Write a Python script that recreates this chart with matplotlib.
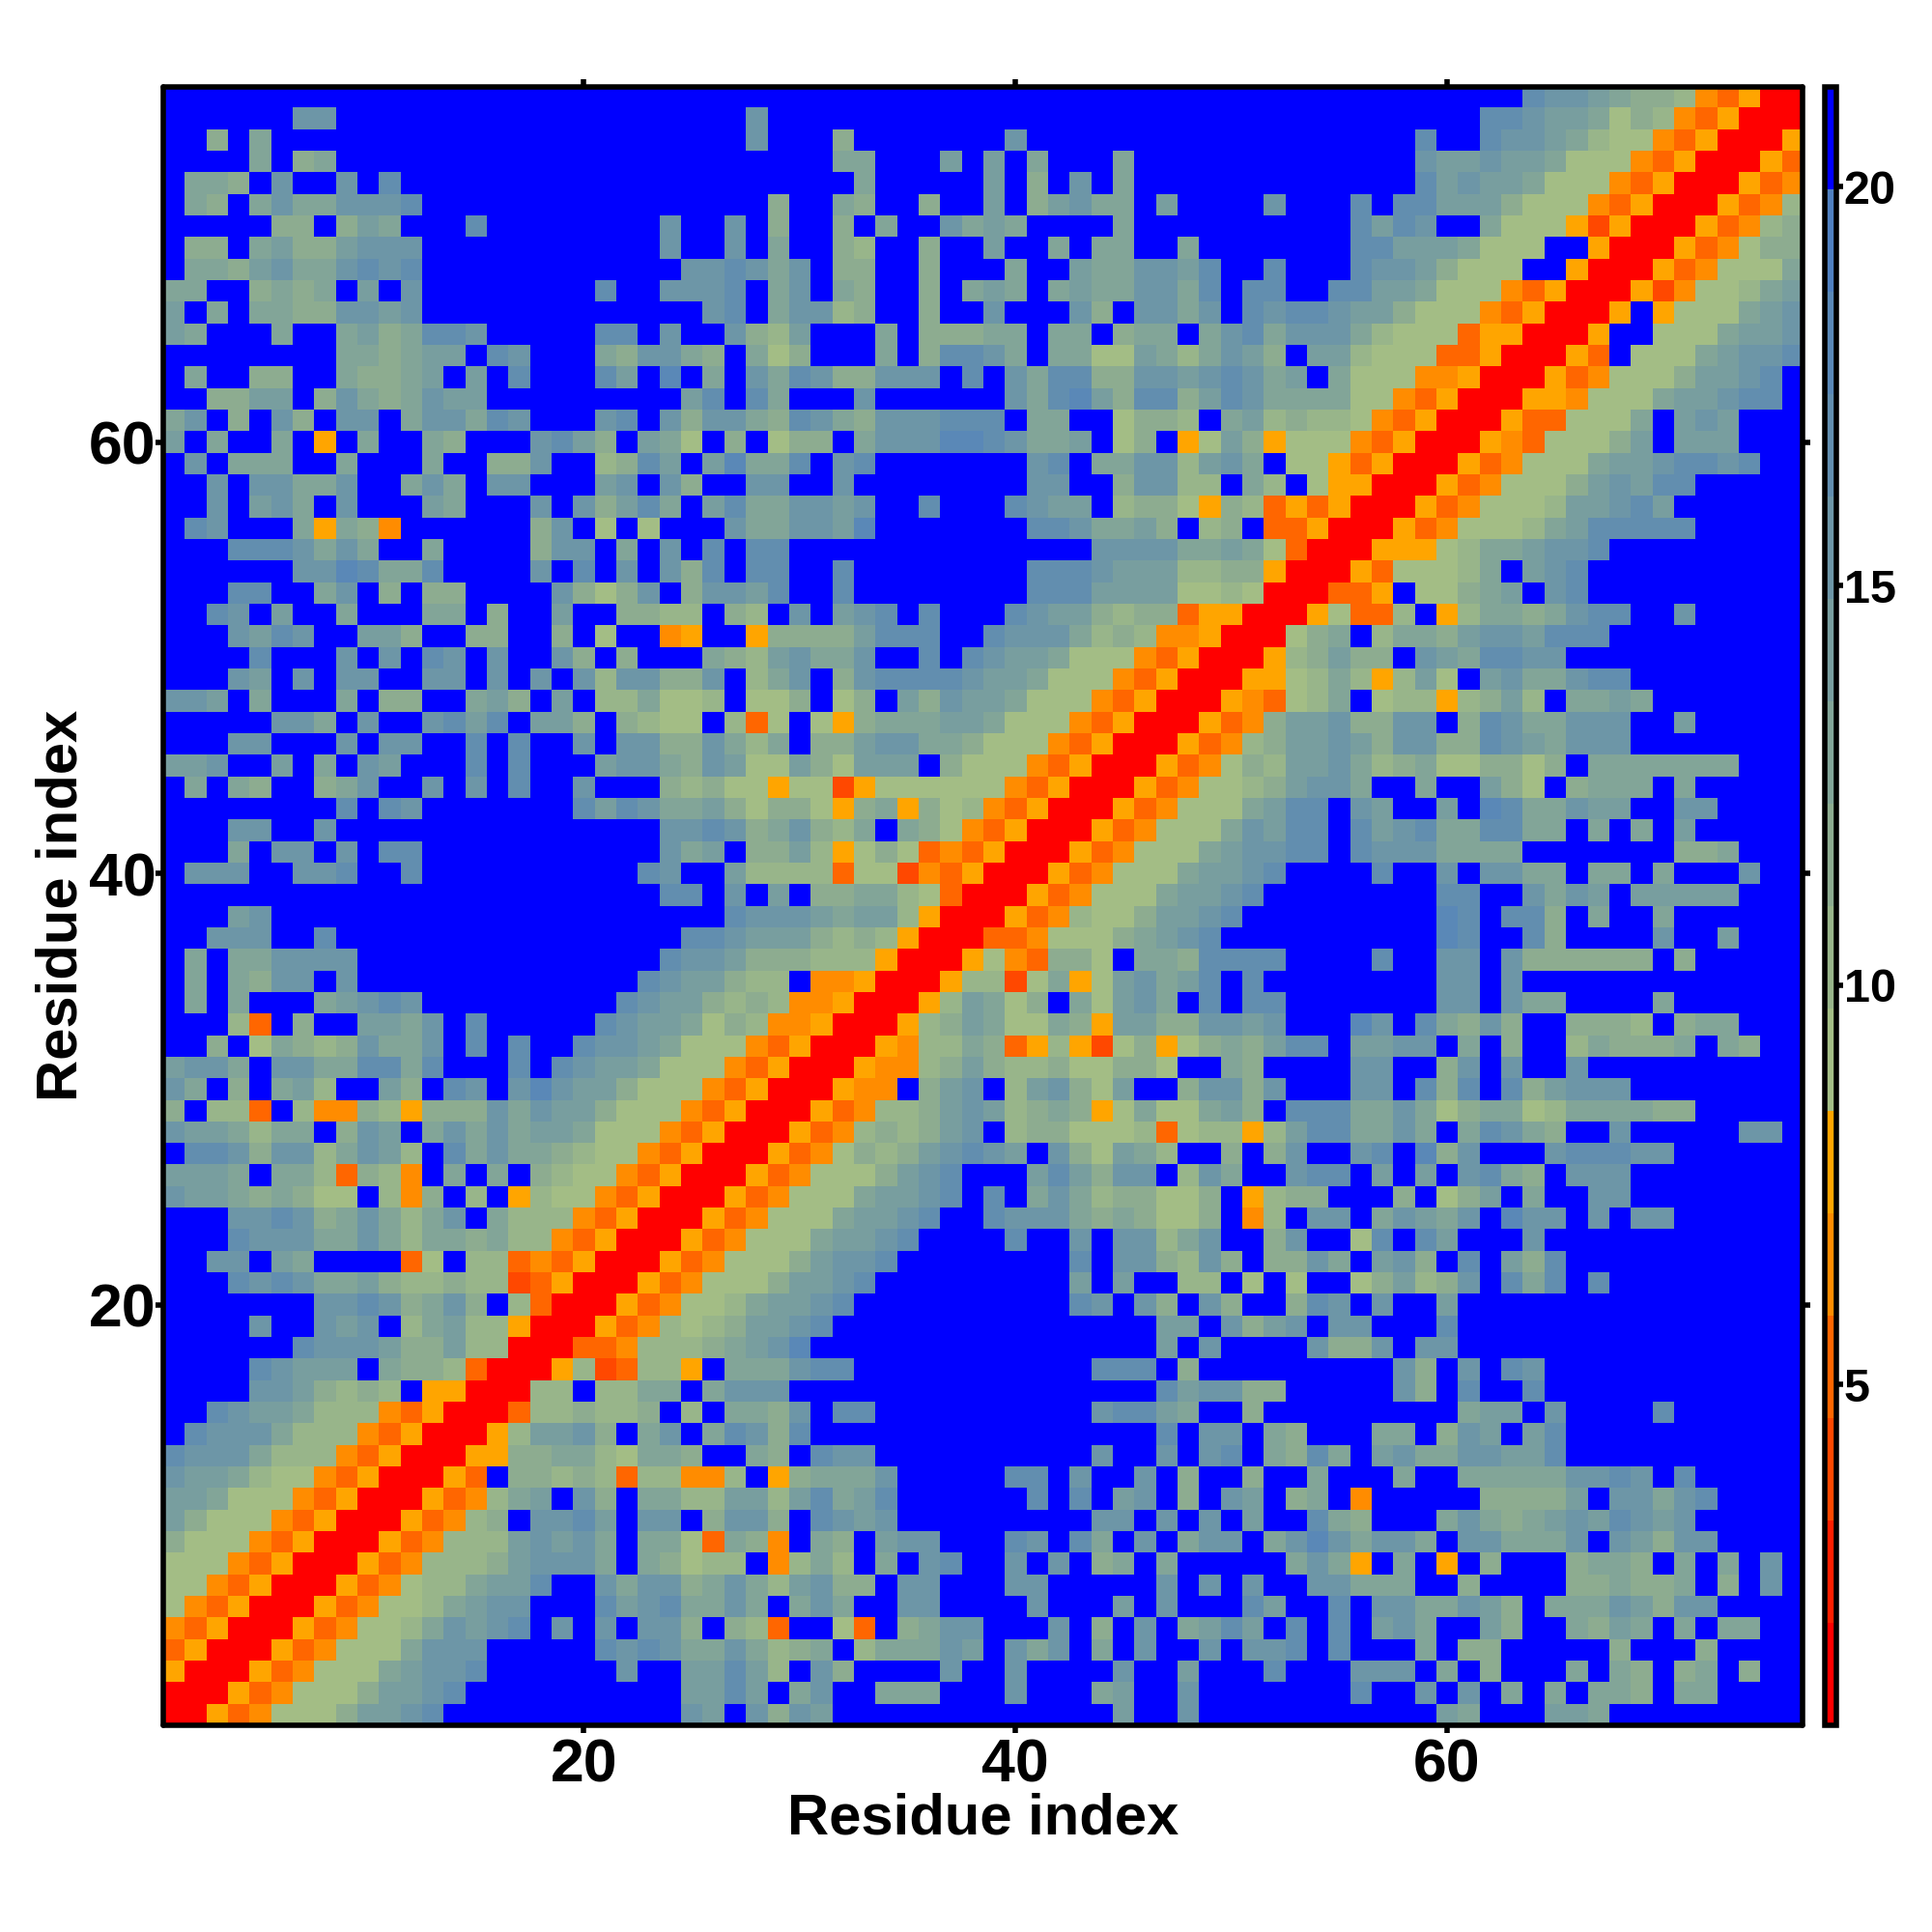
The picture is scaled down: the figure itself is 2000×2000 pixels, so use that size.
import numpy as np
import matplotlib
matplotlib.use("Agg")
import matplotlib.pyplot as plt
from matplotlib.colors import ListedColormap, BoundaryNorm

plt.rcParams["font.family"] = ["Liberation Sans", "DejaVu Sans"]
plt.rcParams["font.weight"] = "bold"

N_RES = 76
X_TICKS = [20, 40, 60]
CBAR_TICKS = [5, 10, 15, 20]
AXIS_LABEL = "Residue index"

# colour bar steps, 16 equal bins
BIN_EDGES = np.linspace(0.73, 21.25, 17)
BIN_COLORS = ["#FF0000", "#FF1F00", "#FF4800", "#FF6600", "#FF8C00", "#FFA500",
              "#A3BD85", "#98B58A", "#8DAC90", "#82A598", "#789E9F", "#6D96A7",
              "#628EAF", "#5A88B7", "#5080C0", "#0000FF"]

# distance read for each cell code (mid of its colour bin)
CODE_VALUES = {"r": 1.4, "q": 3.9, "d": 5.2, "m": 6.5, "o": 7.8,
               "1": 9.1, "2": 10.4, "3": 11.6, "4": 12.9, "5": 14.2,
               "6": 15.5, "7": 16.8, "8": 18.1, "9": 19.4, ".": 20.6}

# upper-left triangle of the symmetric map: first line is residue 76,
# each line runs from residue 1 up to the diagonal (spaces only for reading)
TRIANGLE = [
    "................... ................... ................... ......76654332mdorr",
    "......66........... ........6.......... ................... ....776554132mdorr",
    "..3.4.............. ........6...3...... .6................. .7..76654211mdorr",
    "....4.34........... ............44...5. 5.4...4............ .6556554111mdorr",
    ".443.6..6.7........ .............4..... 5.3.6.4............ .756554111mdorr",
    ".43.46446667....... .........3..43..3.. 5.35644.5....6...7. 775553111mdorr",
    ".....33.354...7.... ....6..6.3..3.4..64 54....4..........75 76..4111oqorr",
    ".33.45335666....... ....6..6.4..32..3.. 5..4.44..4.......77 5554111..orr",
    ".44356446767....... .....667646.33..3.. .4..5446657..7...76 653111..orr",
    "44..3434.5.6....... .7..6667.46.43..3.4 54.45446647.77..775 54111mdorr",
    "5.4.44336656....... ......67.46623..3.. 6...63.6646.7677655 3111mdorr",
    "54...4..4534776.... .77.6..6325...4.333 44.44.344.467466642 111doorr",
    "........443455.76.. .436643.413...4.377 64.44115424653.5521 11ddorr",
    ".4..33..43345.5.7.. .75.8.4.647633666.7 .64773366567645.411 1mmorr",
    "..3355.36434655.... .....57.74...6..... .647853773576444411 mdorr",
    "46.3.63.66.466476.. .67.636643764366677 7.44..1332.4523221m dorr",
    "5.4..4.o.4..43...67 53.541.3.133.466688 76445.13.o153o111md orr",
    ".6.444..4...4..336. .2375.58447.67..... ..67.44662564.11odo rr",
    "..6.66446..464.66.. .56.63..66..6...... ..66..36622.42.1oor r",
    "..6.564.6...54...6. 63574.57446656..7.. .7655.2331o32dodorr",
    ".76...4o43m......36 .1.1...6446658..... ..7764453.23.ddorr",
    "...7776464..4....36 6.4.6.7.77......... .....666644541drr",
    "......6687447....6. 7.6.637.77..7...... ..77765552233orr",
    "...77..46.3.33....6 3136.36657..7...... ..77755551121rr",
    "..76.5..4...44.3..5 ..3322.32.6.567.7.. .76553233doorr",
    "...6576..553..33..3 .1..mo..o33335777.. 76664232mmorr",
    "....7...6.6.76.6..6 3.3...43256446..7.7 6554111mdorr",
    "...65.6.66..66.6.6. 6266336.246.3677776 554111mdorr",
    "665.4...4.33..453.5 .224112.113.13.5365 54111mdorr",
    ".....664.6..6757.55 3.3211.2d1.1o344455 4111mdorr",
    "...66...6.66..7.7.. 6.66336424.33566443 111mdorr",
    "556..5.4.65...7.7.. .566436511531555.31 11mdorr",
    ".4.43..346..6.6.7.. 6...32311o11qo11111 1mdorr",
    "........7.76....... 757644531331o34o312 mdorr",
    "...66..6........... ....6676346324.431m dorr",
    "...4.66.6.77....... ....645.3352o131dmd orr",
    ".666..667..7....... ...76..52222d11qmdo rr",
    "................... ....77.6.5.334421dr r",
    "...56.............. .......766654552orr",
    "..666..7........... .....7765553232orr",
    ".4.446666.......... ....7665333222orr",
    ".4.4366.6.......... ...7655322.mmorr",
    ".4.4...45676....... ..76553232mmorr",
    "...2d.3..5546.7.... .76554132mmorr",
    "..3.143236446.7.7.. 76654111mdorr",
    "5664.66447747...7.7 6554111mdorr",
    "64.3.452..53.76.686 553111mdorr",
    "3.22d.2mm32o3336465 53111mdorr",
    "6554244.365.4646455 4111mdorr",
    ".77636624652.746443 211mdorr",
    "5554.442d32m.4.4.32 11mdorr",
    "655434311.2m3.2.o21 1mdorr",
    "...66763464246.4222 mdorr",
    "...766644642443422m dorr",
    "..66.54....d1.22dmd orr",
    "...7676445322322qdo rr",
    ".......66763463.2dr r",
    "....6..656.24522orr",
    "......7666533522rr",
    "....76555.4332drr",
    "....6653232.oorr",
    "..76554222mdorr",
    ".76664222mdorr",
    "76664222mdorr",
    "6554211mdorr",
    "554111mdorr",
    "53111mdorr",
    "3111mdorr",
    "111mdorr",
    "11mdorr",
    "1mdorr",
    "mdorr",
    "dorr",
    "orr",
    "rr",
    "r",
]


def build_matrix():
    dist = np.zeros((N_RES, N_RES))
    for r, line in enumerate(TRIANGLE):
        cells = line.replace(" ", "")
        assert len(cells) == N_RES - r, (r, len(cells))
        y = N_RES - 1 - r
        for x, ch in enumerate(cells):
            dist[y, x] = CODE_VALUES[ch]
            dist[x, y] = CODE_VALUES[ch]
    return dist


def style_frame(ax):
    for sp in ax.spines.values():
        sp.set_linewidth(2.0)
        sp.set_capstyle("round")


def main():
    dist = build_matrix()
    cmap = ListedColormap(BIN_COLORS)
    norm = BoundaryNorm(BIN_EDGES, cmap.N)

    fig = plt.figure(figsize=(10, 10), dpi=200)
    ax = fig.add_axes([168.7 / 2000, 1 - 1786 / 2000, 1697.3 / 2000, 1696.3 / 2000])
    im = ax.imshow(dist, origin="lower", cmap=cmap, norm=norm, aspect="auto",
                   interpolation="nearest", extent=[0.5, 76.5, 0.5, 76.5])

    ax.set_xticks(X_TICKS)
    ax.set_yticks(X_TICKS)
    ax.tick_params(axis="both", which="major", length=3, width=2, direction="out",
                   top=True, right=True, labelsize=22.5, pad=-0.4)
    ax.tick_params(axis="x", pad=1.6)
    ax.set_xlabel(AXIS_LABEL, fontsize=21.5, fontweight="bold")
    ax.set_ylabel(AXIS_LABEL, fontsize=21.5, fontweight="bold")
    ax.xaxis.set_label_coords(0.5, -0.041)
    ax.yaxis.set_label_coords(-0.0455, 0.5)
    style_frame(ax)

    cax = fig.add_axes([1888.5 / 2000, 1 - 1786 / 2000, 12 / 2000, 1696.3 / 2000])
    cbar = fig.colorbar(im, cax=cax, spacing="proportional", ticks=CBAR_TICKS)
    cbar.ax.minorticks_off()
    cbar.ax.tick_params(length=2.5, width=2, labelsize=17.5, pad=0.5)
    cbar.ax.set_yticklabels([str(t) for t in CBAR_TICKS], fontweight="bold")
    cbar.outline.set_linewidth(2.0)

    fig.savefig("out.png", dpi=200, facecolor="white")
    plt.close(fig)


if __name__ == "__main__":
    main()
